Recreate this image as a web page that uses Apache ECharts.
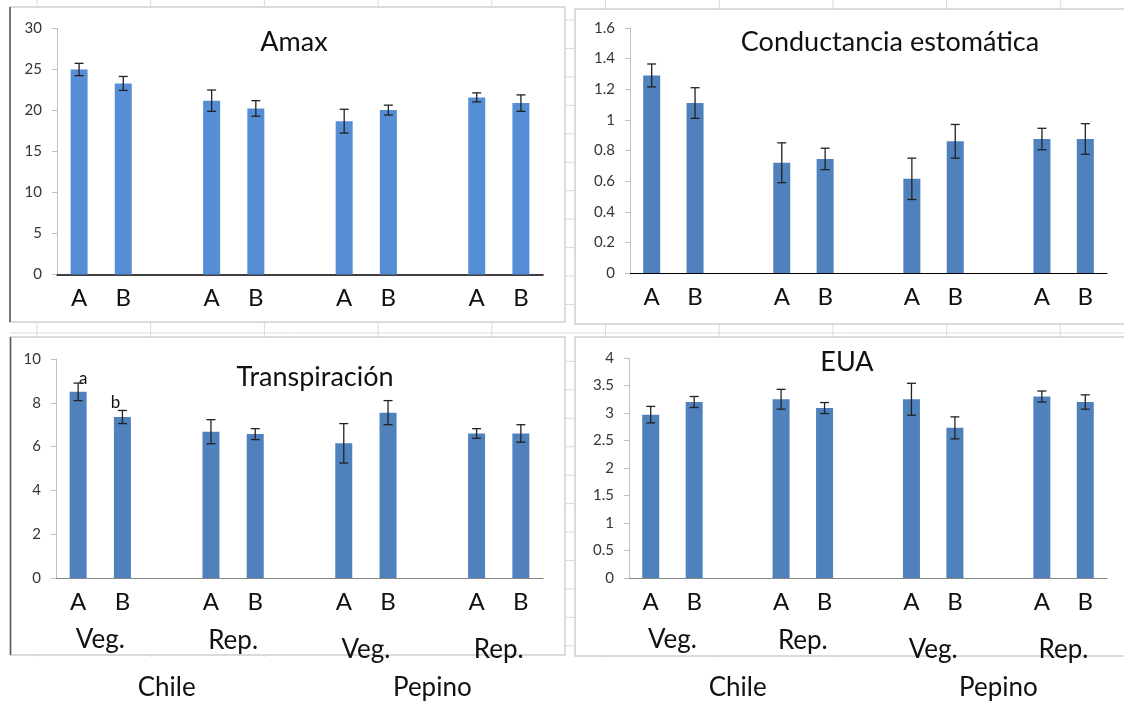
<!DOCTYPE html>
<html>
<head>
<meta charset="utf-8">
<script src="https://cdn.jsdelivr.net/npm/echarts@6/dist/echarts.min.js"></script>
<style>
  html, body { margin: 0; padding: 0; background: #ffffff; }
  #chart { width: 1124px; height: 704px; }
</style>
</head>
<body>
<div id="chart"></div>
<script>
// ---------- data ----------
const categories = ['A', 'B', '', 'A', 'B', '', 'A', 'B', '', 'A', 'B'];

const amax      = [25.0, 23.3, null, 21.2, 20.25, null, 18.7, 20.05, null, 21.6, 20.9];
const amaxErr   = [0.75, 0.85, null, 1.3, 0.95, null, 1.45, 0.6, null, 0.55, 1.0];

const cond      = [1.29, 1.11, null, 0.72, 0.745, null, 0.615, 0.86, null, 0.875, 0.875];
const condErr   = [0.075, 0.1, null, 0.13, 0.07, null, 0.135, 0.11, null, 0.07, 0.1];

const transp    = [8.5, 7.35, null, 6.68, 6.57, null, 6.15, 7.55, null, 6.6, 6.6];
const transpErr = [0.4, 0.3, null, 0.55, 0.25, null, 0.9, 0.55, null, 0.22, 0.4];
const transpSig = ['a', 'b', null, null, null, null, null, null, null, null, null];

const eua       = [2.97, 3.2, null, 3.25, 3.09, null, 3.25, 2.73, null, 3.3, 3.2];
const euaErr    = [0.15, 0.1, null, 0.18, 0.1, null, 0.29, 0.2, null, 0.1, 0.13];

const titles = ['Amax', 'Conductancia estomática', 'Transpiración', 'EUA'];
const yMin = [0, 0, 0, 0];
const yMax = [30, 1.6, 10, 4];
const yInterval = [5, 0.2, 2, 0.5];

const stageLabels = ['Veg.', 'Rep.', 'Veg.', 'Rep.'];
const stageGroups = [[0, 1], [3, 4], [6, 7], [9, 10]];
const cropLabels = ['Chile', 'Pepino'];
const cropGroups = [[0, 4], [6, 10]];

// ---------- layout / style ----------
const FONT = 'Lato, "Open Sans", sans-serif';
const grids = [
  { left: 57,  top: 28.5, width: 486, height: 246 },
  { left: 630, top: 28,   width: 477, height: 245 },
  { left: 56,  top: 359,  width: 487, height: 219 },
  { left: 629, top: 358,  width: 478, height: 220 }
];
const barColors = ['#558ed5', '#4f81bd', '#4f81bd', '#4f81bd'];
const xLineColors = ['#000000', '#000000', '#868686', '#868686'];
const xLineWidths = [1.6, 1.2, 1.2, 1.2];
const titlePos = [[294, 42], [890, 42], [315, 377], [847, 362]];

const values = [amax, cond, transp, eua];
const errors = [amaxErr, condErr, transpErr, euaErr];

const chart = echarts.init(document.getElementById('chart'), null, { renderer: 'canvas' });

function errRender(params, api) {
  const x = api.value(0), y = api.value(1), e = api.value(2);
  const top = api.coord([x, y + e]);
  const bot = api.coord([x, y - e]);
  const hw = 4.5;
  const style = { stroke: '#222222', lineWidth: 1.3 };
  return {
    type: 'group',
    children: [
      { type: 'line', shape: { x1: top[0], y1: top[1], x2: bot[0], y2: bot[1] }, style },
      { type: 'line', shape: { x1: top[0] - hw, y1: top[1], x2: top[0] + hw, y2: top[1] }, style },
      { type: 'line', shape: { x1: bot[0] - hw, y1: bot[1], x2: bot[0] + hw, y2: bot[1] }, style }
    ]
  };
}

const xAxes = [], yAxes = [], series = [];
for (let g = 0; g < 4; g++) {
  xAxes.push({
    type: 'category', gridIndex: g, data: categories,
    axisTick: { show: false },
    axisLine: { show: true, lineStyle: { color: xLineColors[g], width: xLineWidths[g] } },
    axisLabel: { interval: 0, fontSize: 24, lineHeight: 24, color: '#111111', fontFamily: FONT, margin: 12 },
    splitLine: { show: false }
  });
  yAxes.push({
    type: 'value', gridIndex: g, min: yMin[g], max: yMax[g], interval: yInterval[g],
    axisLine: { show: true, lineStyle: { color: '#bfbfbf', width: 1 } },
    axisTick: { show: true, length: 5, lineStyle: { color: '#bfbfbf' } },
    splitLine: { show: false },
    axisLabel: { fontSize: 15, color: '#363636', fontFamily: FONT, margin: 15 }
  });
  const vals = values[g];
  const barData = vals.map((v, i) => {
    if (v === null) return '-';
    if (g === 2 && transpSig[i]) {
      return {
        value: v,
        label: {
          show: true, position: 'top', formatter: transpSig[i],
          fontSize: 17, fontFamily: FONT, color: '#111111',
          offset: i === 0 ? [5, 0] : [-7, -1]
        }
      };
    }
    return v;
  });
  series.push({
    type: 'bar', xAxisIndex: g, yAxisIndex: g, data: barData,
    barWidth: 17, itemStyle: { color: barColors[g] }, z: 2
  });
  const errData = [];
  vals.forEach((v, i) => { if (v !== null) errData.push([i, v, errors[g][i]]); });
  series.push({
    type: 'custom', xAxisIndex: g, yAxisIndex: g, data: errData,
    renderItem: errRender, encode: { x: 0, y: 1 }, clip: false, z: 3, silent: true
  });
}

chart.setOption({
  animation: false,
  backgroundColor: '#ffffff',
  grid: grids.map(gr => Object.assign({ containLabel: false, outerBoundsMode: 'none' }, gr)),
  xAxis: xAxes,
  yAxis: yAxes,
  series: series
});

// ---------- background sheet + panels + texts ----------
const gfx = [];
const GRID_C = '#dadada';
for (let k = 0; k < 10; k++) {
  const x = 37 + 113.7 * k;
  gfx.push({ type: 'line', z: -20, silent: true, shape: { x1: x, y1: 0, x2: x, y2: 657 }, style: { stroke: GRID_C, lineWidth: 1 } });
}
for (let k = 0; k < 23; k++) {
  const y = 20 + 28.45 * k;
  if (y > 657) break;
  gfx.push({ type: 'line', z: -20, silent: true, shape: { x1: 10, y1: y, x2: 1124, y2: y }, style: { stroke: GRID_C, lineWidth: 1 } });
}
const panels = [
  { x: 10, y: 7, w: 555, h: 315, darkLeft: true },
  { x: 575, y: 9, w: 570, h: 315, darkLeft: false },
  { x: 10.5, y: 337, w: 554.5, h: 318, darkLeft: true },
  { x: 575, y: 337, w: 570, h: 319, darkLeft: false }
];
panels.forEach(p => {
  gfx.push({ type: 'rect', z: -10, silent: true, shape: { x: p.x, y: p.y, width: p.w, height: p.h },
    style: { fill: '#ffffff', stroke: '#cfcfcf', lineWidth: 1.5 } });
  if (p.darkLeft) {
    gfx.push({ type: 'line', z: -9, silent: true, shape: { x1: p.x, y1: p.y, x2: p.x, y2: p.y + p.h },
      style: { stroke: '#555555', lineWidth: 1.5 } });
  }
});
// titles
for (let g = 0; g < 4; g++) {
  gfx.push({ type: 'text', z: 50, x: titlePos[g][0], y: titlePos[g][1],
    style: { text: titles[g], fontSize: 27, fontFamily: FONT, fill: '#111111', align: 'center', verticalAlign: 'middle' } });
}
// stage and crop labels under the lower panels
function px(axisIdx, idx) { return chart.convertToPixel({ xAxisIndex: axisIdx }, idx); }
const stageY = [640, 641, 650, 650];
[2, 3].forEach(ax => {
  stageGroups.forEach((grp, j) => {
    const cx = (px(ax, grp[0]) + px(ax, grp[1])) / 2;
    gfx.push({ type: 'text', z: 50, x: cx, y: stageY[j],
      style: { text: stageLabels[j], fontSize: 26, fontFamily: FONT, fill: '#111111', align: 'center', verticalAlign: 'middle' } });
  });
  cropGroups.forEach((grp, j) => {
    const cx = (px(ax, grp[0]) + px(ax, grp[1])) / 2;
    gfx.push({ type: 'text', z: 50, x: cx, y: 688,
      style: { text: cropLabels[j], fontSize: 26, fontFamily: FONT, fill: '#111111', align: 'center', verticalAlign: 'middle' } });
  });
});

chart.setOption({ graphic: { elements: gfx } });
</script>
</body>
</html>
